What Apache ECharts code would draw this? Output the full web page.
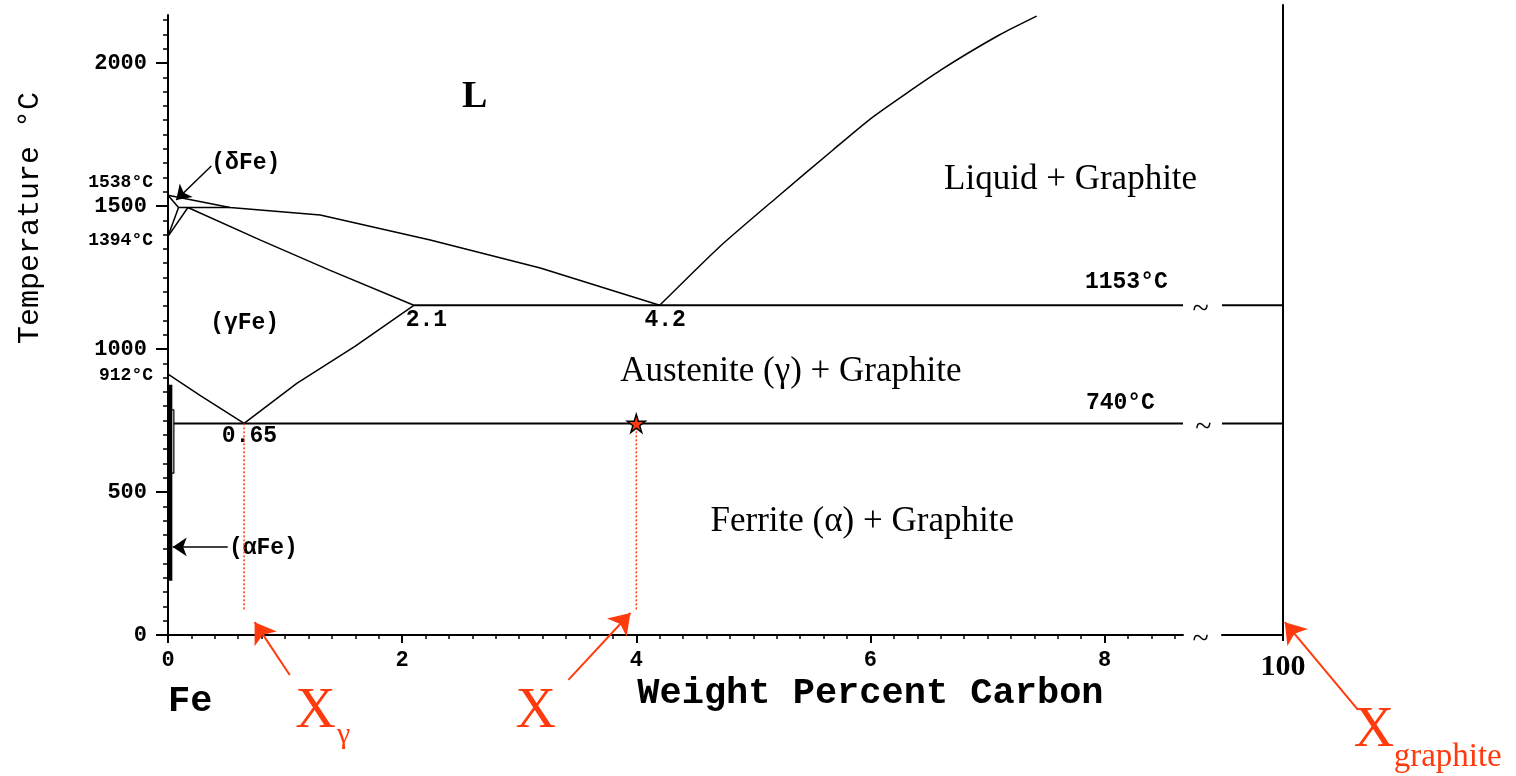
<!DOCTYPE html>
<html>
<head>
<meta charset="utf-8">
<title>Fe–C (graphite) phase diagram</title>
<script src="https://cdn.jsdelivr.net/npm/echarts@6/dist/echarts.min.js"></script>
<style>
  html, body { margin: 0; padding: 0; background: #fff; }
  #chart { width: 1516px; height: 776px; }
</style>
</head>
<body>
<div id="chart"></div>
<script>
// ---- Axis ticks -------------------------------------------------------
const xTickLabels = [0, 2, 4, 6, 8];            // wt% C
const yTickLabels = [0, 500, 1000, 1500, 2000]; // °C
const graphiteTick = [100];

// ---- Phase boundaries: [wt% C, °C] -----------------------------------
const liquidusGraphite = [[4.2, 1153], [4.71, 1357], [5.2, 1530], [5.68, 1696], [6.02, 1811], [6.6, 1975], [7.1, 2098], [7.42, 2164]];
const liquidusGamma    = [[0, 1538], [0.53, 1495], [1.3, 1469], [2.24, 1381], [3.18, 1283], [4.2, 1153]];
const solidusGamma     = [[0.17, 1495], [0.79, 1381], [1.38, 1276], [2.1, 1153]];
const acmLine          = [[2.1, 1153], [1.6, 1010], [1.1, 880], [0.65, 740]];
const a3Line           = [[0, 912], [0.27, 839], [0.65, 740]];
const peritectic       = [[0.09, 1495], [0.53, 1495]];
const deltaSolidus     = [[0, 1538], [0.09, 1495]];
const deltaSolvus      = [[0, 1394], [0.09, 1495]];
const gammaDeltaLine   = [[0, 1394], [0.17, 1495]];
const eutecticLine     = [[2.1, 1153], [8.67, 1153]];
const eutectoidLine    = [[0.05, 740], [8.67, 740]];
const alphaBar         = [[0.02, 190], [0.02, 875]];
const alphaBox         = [[0.015, 566], [0.015, 787], [0.05, 787], [0.05, 566], [0.015, 566]];

// right-hand graphite side (99..100 scale)
const graphiteEutectic  = [[99, 1153], [100, 1153]];
const graphiteEutectoid = [[99, 740], [100, 740]];

// ---- Alloy marks ------------------------------------------------------
const alloyPoint   = [[4.0, 740]];
const tieGamma     = [[0.65, 740], [0.65, 85]];
const tieAlloy     = [[4.0, 740], [4.0, 85]];

// ---- Pointer arrows [from, to] ---------------------------------------
const blackArrows   = [[[0.37, 1640], [0.07, 1521]], [[0.51, 308], [0.04, 308]]];
const redArrows     = [[[1.04, -140], [0.74, 45]], [[3.42, -157], [3.95, 77]]];
const graphiteArrow = [[[101.23, -262], [100.03, 45]]];

// ---- Text: [text, x, y] ----------------------------------------------
const phaseTexts   = [['Liquid + Graphite', 7.71, 1591], ['Austenite (γ) + Graphite', 5.32, 920], ['Ferrite (α) + Graphite', 5.93, 395]];
const liquidText   = [['L', 2.62, 1881]];
const phaseTags    = [['(δFe)', 0.37, 1650], ['(γFe)', 0.36, 1091], ['(αFe)', 0.52, 304], ['2.1', 2.03, 1101], ['4.2', 4.07, 1101], ['0.65', 0.46, 696]];
const leftTemps    = [['1538°C', -0.128, 1584], ['1394°C', -0.128, 1381], ['912°C', -0.128, 906]];
const rightTemps   = [['1153°C', 8.54, 1234], ['740°C', 8.43, 811]];
const breakMarks   = [['~', 8.82, 1153], ['~', 8.845, 740], ['~', 8.82, 0]];
const axisTitles   = [['Weight Percent Carbon', 6.0, -206], ['Fe', 0.0, -234]];
const yTitle       = [['Temperature °C', -1.18, 1458]];
const redBig       = [['X', 1.26, -269], ['X', 3.14, -269]];
const redSub       = [['γ', 1.50, -350]];
const graphiteBig  = [['X', 101.49, -336]];
const graphiteSub  = [['graphite', 102.70, -427]];

// ---- Styling ----------------------------------------------------------
const RED = '#ff3a0c';
const MONO = 'Liberation Mono';
const SERIF = 'Liberation Serif';

const range = (a, b, step) => {
  const out = [];
  for (let v = a; v <= b + 1e-9; v += step) out.push(Math.round(v * 1000) / 1000);
  return out;
};

function boundary(data, width, xi, yi) {
  return {
    type: 'line', data: data, xAxisIndex: xi || 0, yAxisIndex: yi || 0,
    showSymbol: false, symbol: 'none', clip: false, silent: true,
    lineStyle: { color: '#000', width: width || 1.5 }
  };
}

function dotted(data) {
  return {
    type: 'line', data: data, showSymbol: false, symbol: 'none', silent: true,
    lineStyle: { color: RED, width: 1.5, type: [2, 2] }
  };
}

function arrows(list, color, size, width, xi, yi) {
  return {
    type: 'lines', coordinateSystem: 'cartesian2d', xAxisIndex: xi || 0, yAxisIndex: yi || 0,
    clip: false, silent: true,
    symbol: ['none', 'arrow'], symbolSize: size,
    lineStyle: { color: color, width: width, opacity: 1 },
    data: list.map(c => ({ coords: c }))
  };
}

function texts(list, label, xi, yi) {
  return {
    type: 'scatter', xAxisIndex: xi || 0, yAxisIndex: yi || 0, clip: false, silent: true,
    symbolSize: 1, itemStyle: { color: 'rgba(255,255,255,0)' },
    data: list.map(t => ({ value: [t[1], t[2]], name: t[0] })),
    label: Object.assign({
      show: true, position: 'inside', formatter: p => p.name,
      color: '#000', opacity: 1, textBorderWidth: 0, textBorderColor: 'transparent'
    }, label)
  };
}

const chart = echarts.init(document.getElementById('chart'), null, { renderer: 'canvas' });

const tickFont = { fontFamily: MONO, fontWeight: 'bold', fontSize: 22, color: '#000', formatter: v => String(v) };

chart.setOption({
  animation: false,
  backgroundColor: '#fff',
  grid: [
    { left: 168, top: 15, width: 1015, height: 620 },
    { left: 1222, top: 5, width: 61, height: 630 }
  ],
  xAxis: [
    {
      gridIndex: 0, type: 'value', min: 0, max: 8.67, position: 'bottom',
      axisLine: { lineStyle: { color: '#000', width: 2 } },
      axisTick: { customValues: range(0, 8.6, 0.2), length: 4, lineStyle: { color: '#000', width: 1.5 } },
      axisLabel: Object.assign({ customValues: xTickLabels, margin: 14 }, tickFont),
      splitLine: { show: false }
    },
    {
      gridIndex: 0, type: 'value', min: 0, max: 8.67, position: 'bottom',
      axisLine: { show: false },
      axisTick: { customValues: xTickLabels, length: 8, lineStyle: { color: '#000', width: 2 } },
      axisLabel: { show: false },
      splitLine: { show: false }
    },
    {
      gridIndex: 1, type: 'value', min: 99, max: 100, position: 'bottom',
      axisLine: { lineStyle: { color: '#000', width: 2 } },
      axisTick: { customValues: graphiteTick, length: 6, lineStyle: { color: '#000', width: 2 } },
      axisLabel: { customValues: graphiteTick, margin: 17, fontFamily: SERIF, fontWeight: 'bold', fontSize: 30, color: '#000', formatter: v => String(v) },
      splitLine: { show: false }
    }
  ],
  yAxis: [
    {
      gridIndex: 0, type: 'value', min: 0, max: 2168, position: 'left',
      axisLine: { lineStyle: { color: '#000', width: 2 } },
      axisTick: { customValues: range(0, 2150, 50), length: 5, lineStyle: { color: '#000', width: 1.5 } },
      axisLabel: Object.assign({ customValues: yTickLabels, margin: 21 }, tickFont),
      splitLine: { show: false }
    },
    {
      gridIndex: 0, type: 'value', min: 0, max: 2168, position: 'left',
      axisLine: { show: false },
      axisTick: { customValues: yTickLabels, length: 12, lineStyle: { color: '#000', width: 2 } },
      axisLabel: { show: false },
      splitLine: { show: false }
    },
    {
      gridIndex: 1, type: 'value', min: 0, max: 2203, position: 'right',
      axisLine: { lineStyle: { color: '#000', width: 2 } },
      axisTick: { show: false }, axisLabel: { show: false },
      splitLine: { show: false }
    }
  ],
  series: [
    Object.assign(boundary(liquidusGraphite), { smooth: 0.2 }),
    boundary(liquidusGamma),
    boundary(solidusGamma),
    boundary(acmLine),
    boundary(a3Line),
    boundary(peritectic),
    boundary(deltaSolidus),
    boundary(deltaSolvus),
    boundary(gammaDeltaLine),
    boundary(eutecticLine, 2),
    boundary(eutectoidLine, 2),
    boundary(alphaBar, 4),
    boundary(alphaBox, 1.2),
    boundary(graphiteEutectic, 2, 2, 2),
    boundary(graphiteEutectoid, 2, 2, 2),
    dotted(tieGamma),
    dotted(tieAlloy),
    {
      type: 'scatter', data: alloyPoint, silent: true, z: 5,
      symbol: 'path://M50,0 L61,35 L98,35 L68,57 L79,91 L50,70 L21,91 L32,57 L2,35 L39,35 Z',
      symbolSize: 18,
      itemStyle: { color: RED, borderColor: '#000', borderWidth: 1.5, opacity: 1 }
    },
    arrows(blackArrows, '#000', 14, 1.5),
    arrows(redArrows, RED, 20, 2),
    arrows(graphiteArrow, RED, 20, 2, 2, 2),
    texts(phaseTexts, { fontFamily: SERIF, fontSize: 35 }),
    texts(liquidText, { fontFamily: SERIF, fontWeight: 'bold', fontSize: 38 }),
    texts(phaseTags, { fontFamily: MONO, fontWeight: 'bold', fontSize: 23, align: 'left' }),
    texts(leftTemps, { fontFamily: MONO, fontWeight: 'bold', fontSize: 18, align: 'right' }),
    texts(rightTemps, { fontFamily: MONO, fontWeight: 'bold', fontSize: 23, align: 'right' }),
    texts(breakMarks, { fontFamily: SERIF, fontSize: 30, offset: [0, 5] }),
    texts(axisTitles.slice(0, 1), { fontFamily: MONO, fontWeight: 'bold', fontSize: 37 }),
    texts(axisTitles.slice(1), { fontFamily: MONO, fontWeight: 'bold', fontSize: 37, align: 'left' }),
    texts(yTitle, { fontFamily: MONO, fontSize: 30, rotate: 90 }),
    texts(redBig, { fontFamily: SERIF, fontSize: 56, color: RED }),
    texts(redSub, { fontFamily: SERIF, fontSize: 30, color: RED }),
    texts(graphiteBig, { fontFamily: SERIF, fontSize: 56, color: RED }, 2, 2),
    texts(graphiteSub, { fontFamily: SERIF, fontSize: 33, color: RED }, 2, 2)
  ]
});
</script>
</body>
</html>
